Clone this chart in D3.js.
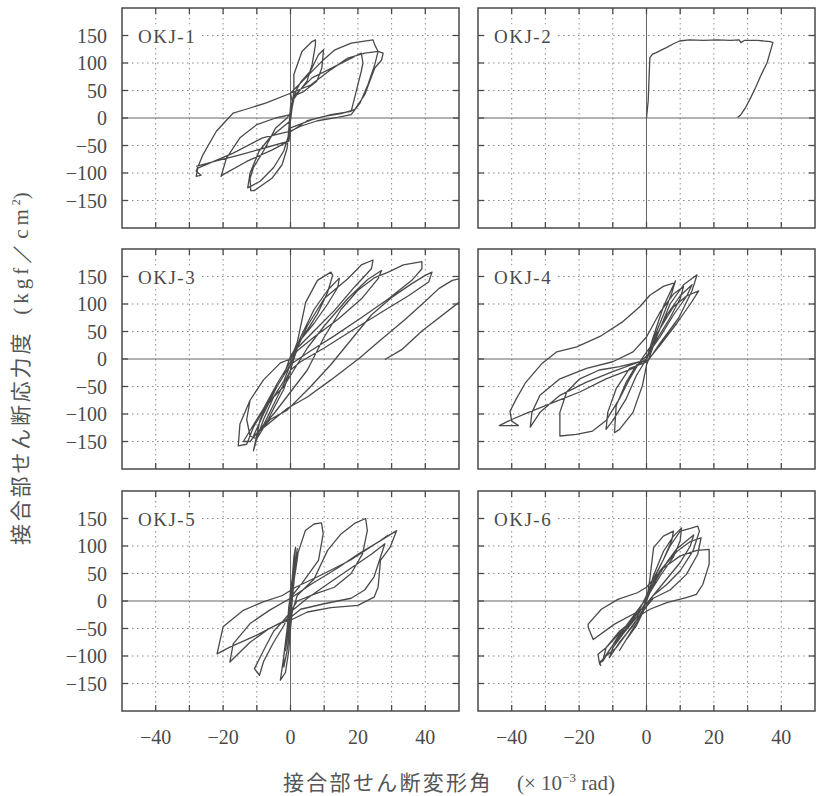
<!DOCTYPE html>
<html>
  <head>
    <meta charset="utf-8">
    <title>OKJ hysteresis</title>
    <script src="https://d3js.org/d3.v7.min.js"></script>
    <style>
      body { margin: 0; background: #fff; }
    </style>
  </head>
  <body>
    <script>
      // shear deformation angle (x10^-3 rad), shear stress (kgf/cm2)
      var okj1 = [[0,0],[0.5,25],[1,48],[1,79],[3.4,121],[6.4,139],[7.4,142],[7.4,133],[6.4,97],[4.9,67],[2.5,48],[0.5,30],[0,0],
        [-0.5,-30],[-2,-60],[-5,-90],[-9,-115],[-12.7,-127],[-12,-100],[-9.3,-60],[-6,-35],[-3,-20],[0,-5],
        [0.5,20],[1.5,48],[3,65],[5.9,85],[8.3,115],[9.8,124],[9.3,91],[7.8,67],[3.9,48],[1,40],[0,20],
        [-0.5,-20],[-1,-55],[-2.5,-85],[-5.4,-109],[-10.8,-132],[-11.8,-132],[-12,-110],[-11,-90],[-8,-60],[-4.4,-18],[-1,0],[0,10],
        [1,40],[6.4,73],[13.2,94],[21,118],[21.5,100],[21,85],[19,36],[18,12],[12,6],[6.4,-3],[0,-18],
        [-0.5,-42],[-5.4,-58],[-13,-79],[-20,-103],[-20.6,-106],[-19,-73],[-15,-36],[-10,-12],[-4.4,0],[0,6],[0.5,30],
        [0,45],[4,70],[9.3,103],[13.2,124],[18,136],[24.5,142],[25,133],[26,121],[25,97],[23,61],[20.6,27],[18,6],[14,1],[8,-5],[3,-15],[0,-24],
        [-8.3,-36],[-17,-64],[-24,-82],[-27.5,-91],[-28,-106],[-26.5,-104],[-28,-97],[-26,-67],[-22,-24],[-17,9],[-13.7,15],[-7.4,27],[0,45],
        [6,60],[12,88],[17,109],[22,118],[26,121],[27.5,118],[27,105],[25,91],[22,42],[19,15],[15,8],[10,3],[5,-5],[0,-25],
        [-0.5,-42],[-8,-55],[-15,-67],[-22,-78],[-28,-88]];

      var okj2 = [[0,0],[0.5,31],[0.8,80],[1,110],[1.8,116],[2.9,119],[4.5,124],[5.9,128],[8,135],[9.8,140],[12.7,142],
        [17,141],[21,142],[25,141],[27.5,142],[28,137],[29,141],[33,141],[36.8,139],[37.5,137],[35.8,101],[34,78],
        [32.4,56],[31,38],[29.4,19],[28,6],[27,1]];

      var okj3 = [[0,0],[2,30],[4.5,103],[8,143],[12,158],[12.5,152],[11,121],[8,82],[4.5,48],[1.5,20],[0,0],
        [-3,-7],[-8,-38],[-12,-75],[-13,-110],[-12,-140],[-10,-145],[-8,-110],[-5,-69],[-2,-40],[0,-10],
        [3,40],[7,90],[11,125],[14.5,147],[14,130],[11,100],[7,65],[3,35],[0,5],
        [-2,-30],[-6,-70],[-9,-110],[-11,-167],[-10,-145],[-7.5,-120],[-5,-90],[-2,-55],[0,-20],
        [2,20],[5,60],[10,110],[17,146],[21,171],[24.5,180],[24,164],[19,131],[13,88],[7,51],[2,20],[0,0],
        [-3,-7],[-8,-38],[-12,-75],[-15,-118],[-15.5,-158],[-13,-155],[-11,-124],[-8,-93],[-5,-69],[-2,-50],[0,-30],
        [5,20],[10,60],[17,110],[23,145],[27,161],[26,146],[21,109],[14,72],[7,40],[2,15],[0,-5],
        [-4,-45],[-8,-90],[-12,-130],[-14,-150],[-12,-150],[-8,-120],[-5,-100],[0,-60],[5,-20],[10,40],[15,90],[20,125],[25,148],[29,158],[33.5,171],[39,177],
        [39,164],[36,143],[29,109],[21,75],[13,42],[6,15],[0,-10],
        [-4,-50],[-8,-100],[-11,-140],[-9,-130],[-6,-110],[-1,-93],[6,-50],[12,-10],[18,35],[24,80],[30,112],[36,137],[40,152],[42,158],
        [41,140],[35,115],[27,85],[18,51],[10,20],[3,-5],[0,-20],
        [-4,-70],[-8,-120],[-10,-135],[-7,-120],[-3,-100],[-1,-90],[5,-69],[12,-38],[20.5,2],[27,36],[34,72],[40,105],[44,128],[48,143],[55,152],
        [62,150],[60,135],[50,103],[39,51],[33,17],[28,-1]];

      var okj4 = [[0,0],[2,40],[5,95],[8.6,142],[7.5,120],[5,80],[2,35],[0,0],
        [-3,-11],[-6,-42],[-9,-85],[-9.5,-134],[-8,-128],[-4,-97],[-1.2,-48],[0,-11],
        [3,40],[7,100],[11,135],[15,153],[13.5,124],[9.6,75],[3.7,26],[0.3,-5],
        [-5,-17],[-9,-54],[-11.5,-97],[-12,-128],[-10,-112],[-6,-72],[-3,-30],[0,0],
        [3,45],[8,95],[12,115],[15.5,124],[13,100],[9,65],[4,25],[0,-5],
        [-2,-5],[-5,-36],[-8,-72],[-12,-112],[-16,-131],[-20.8,-137],[-25.7,-140],[-25.7,-97],[-23.7,-60],[-19.8,-36],[-14,-20],[-8,-14],[-2,-5],
        [2,30],[6,80],[10,115],[13.5,135],[12,115],[8,80],[4,40],[0,5],
        [-2,-5],[-10,-23],[-17.8,-42],[-25.7,-66],[-31.6,-97],[-34.5,-124],[-34,-97],[-31.6,-66],[-25.7,-36],[-17.8,-17],[-10,-5],[-4,13],
        [0,40],[4,85],[8,118],[11,132],[10,110],[7,75],[3,35],[0,0],
        [-4,-17],[-12,-36],[-19.8,-60],[-27.6,-79],[-35,-97],[-40,-110],[-43.7,-121],[-38,-121],[-40,-113],[-40.5,-95],[-38.6,-72],[-36,-44],[-31,-8],
        [-26.6,13],[-20.7,22],[-13.8,41],[-7,68],[-2,95],[1,116],[5,132],[8,138]];

      var okj5 = [[0,0],[0.5,40],[1,80],[1.5,98],[1,60],[0,20],[-0.5,-20],[-1,-60],[-1.5,-90],[-0.5,-50],[0.5,0],[1,50],[2,95],[1.5,70],[0.5,30],
        [-0.5,-10],[-1,-50],[-2,-100],[-2,-120],[-1,-90],[0,-40],[0.5,0],[1.2,45],[2.2,85],[1.5,55],[0.3,10],[-0.8,-40],[-1.5,-75],[-0.5,-40],[0.5,0],
        [1.5,74],[4.4,128],[7,140],[9.2,142],[9.7,122],[8.3,74],[3.4,32],[0.5,10],[-0.5,-30],[-1.5,-80],[-3,-144],[-1.5,-130],[-0.5,-90],[0,-50],[0.5,-20],[2,10],
        [7,40],[11,92],[15,122],[19,141],[22.3,150],[22.8,128],[21.4,86],[18,50],[13,25],[7.3,13],[2,0],[0,-20],
        [-2,-35],[-5,-55],[-8,-90],[-10.7,-123],[-9.2,-135],[-8,-110],[-5,-75],[-2,-45],[0,-20],[5,5],[12,35],[18,60],[24,85],[28,104],
        [24.8,44],[22,20],[18,5],[10,-5],[3,-15],[0,-30],
        [-6.3,-50],[-12,-75],[-18,-111],[-17,-78],[-12,-41],[-6.3,-17],[0,5],[6,30],[14,60],[20,85],[26,107],[31.5,128],
        [29.6,98],[26.7,74],[26,25],[24.8,7],[20,-8],[12,-12],[5,-20],[0,-35],
        [-3.4,-41],[-10,-62],[-18,-84],[-21.8,-96],[-20,-47],[-14,-17],[-8.3,-2],[-2.4,10],[1.5,25],[10,50],[18,75],[26.7,110],[29,120]];

      var okj6 = [[0,0],[1,40],[2.1,97],[5,118],[8,127],[7.5,110],[5,75],[2,40],[0,10],[-1,-20],[-3,-45],[-6,-70],[-8,-90],[-6.5,-75],[-4,-50],[-1.5,-25],[0,0],
        [2,45],[5,90],[8,118],[10.4,133],[10,110],[8,80],[4,45],[1,15],[-1,-15],[-4,-45],[-8,-75],[-11,-103],[-10,-85],[-7,-60],[-3,-30],[0,0],
        [3,50],[7,100],[10,127],[13,132],[15.2,136],[15.7,127],[13.8,91],[10,55],[6,30],[2,10],[0,-5],
        [-3,-25],[-6,-50],[-10,-80],[-13.9,-115],[-14.4,-97],[-12,-85],[-9,-65],[-5,-40],[-2,-15],[0,10],
        [4,55],[9,90],[13,108],[16.2,115],[15.2,85],[11.8,48],[7,20],[2,5],[0,-10],
        [-4,-24],[-9.5,-42],[-15.8,-70],[-17.3,-48],[-17.3,-42],[-13.4,-15],[-8.5,3],[-2.7,15],[0,25],[5,60],[10,82],[15,92],[18.6,94],
        [18.6,67],[16.7,30],[14.8,12],[11.8,6],[6,-3],[1,-15],[-3,-30],[-8,-55],[-12,-85],[-13,-110],
        [-12,-100],[-9,-70],[-6,-45],[-3,-20],[0,5],[3,40],[6,70],[9,95],[12,110],[14,120],[13,100],[10,70],[6,40],[2,10],[0,-10],
        [-3,-35],[-6,-60],[-9,-85],[-12,-100],[-14,-112],[-13.5,-118]];

      var names = ["OKJ-1", "OKJ-2", "OKJ-3", "OKJ-4", "OKJ-5", "OKJ-6"];
      var curves = [okj1, okj2, okj3, okj4, okj5, okj6];
      var xTicks = [-40, -30, -20, -10, 10, 20, 30, 40];
      var xLabels = [-40, -20, 0, 20, 40];
      var yTicks = [-150, -100, -50, 50, 100, 150];
      var yLabels = [-150, -100, -50, 0, 50, 100, 150];

      var width = 816, height = 796;
      var colX = [122, 478];
      var rowY = [8, 249, 491];
      var plotW = 337, plotH = 220;
      var ink = "#4a4a4a";

      var svg = d3.select("body").append("svg").attr("width", width).attr("height", height);

      var x = d3.scaleLinear().domain([-50, 50]).range([0, plotW]);
      var y = d3.scaleLinear().domain([-200, 200]).range([plotH, 0]);
      var fmt = function(d) { return d < 0 ? "\u2212" + Math.abs(d) : String(d); };

      var line = d3.line()
        .x(function(d) { return x(d[0]); })
        .y(function(d) { return y(d[1]); });

      curves.forEach(function(data, i) {
        var col = i % 2, row = Math.floor(i / 2);
        var g = svg.append("g").attr("transform", "translate(" + colX[col] + "," + rowY[row] + ")");

        g.append("clipPath").attr("id", "clip" + i)
          .append("rect").attr("width", plotW).attr("height", plotH);

        // dotted grid
        g.selectAll(".gx").data(xTicks).enter().append("line")
          .attr("x1", function(d) { return x(d); }).attr("x2", function(d) { return x(d); })
          .attr("y1", 0).attr("y2", plotH)
          .attr("stroke", "#8a8a8a").attr("stroke-width", 1).attr("stroke-dasharray", "1.5,3.5");
        g.selectAll(".gy").data(yTicks).enter().append("line")
          .attr("x1", 0).attr("x2", plotW)
          .attr("y1", function(d) { return y(d); }).attr("y2", function(d) { return y(d); })
          .attr("stroke", "#8a8a8a").attr("stroke-width", 1).attr("stroke-dasharray", "1.5,3.5");

        // zero lines
        g.append("line").attr("x1", x(0)).attr("x2", x(0)).attr("y1", 0).attr("y2", plotH)
          .attr("stroke", "#666").attr("stroke-width", 1);
        g.append("line").attr("x1", 0).attr("x2", plotW).attr("y1", y(0)).attr("y2", y(0))
          .attr("stroke", "#666").attr("stroke-width", 1);

        // inward ticks on all sides
        var tx = xTicks.concat([0]);
        g.selectAll(".tt").data(tx).enter().append("line")
          .attr("x1", function(d) { return x(d); }).attr("x2", function(d) { return x(d); })
          .attr("y1", 0).attr("y2", 6).attr("stroke", ink).attr("stroke-width", 1.3);
        g.selectAll(".tb").data(tx).enter().append("line")
          .attr("x1", function(d) { return x(d); }).attr("x2", function(d) { return x(d); })
          .attr("y1", plotH - 6).attr("y2", plotH).attr("stroke", ink).attr("stroke-width", 1.3);
        var ty = yTicks.concat([0]);
        g.selectAll(".tl").data(ty).enter().append("line")
          .attr("x1", 0).attr("x2", 6)
          .attr("y1", function(d) { return y(d); }).attr("y2", function(d) { return y(d); })
          .attr("stroke", ink).attr("stroke-width", 1.3);
        g.selectAll(".tr").data(ty).enter().append("line")
          .attr("x1", plotW - 6).attr("x2", plotW)
          .attr("y1", function(d) { return y(d); }).attr("y2", function(d) { return y(d); })
          .attr("stroke", ink).attr("stroke-width", 1.3);

        // specimen label on white patch
        g.append("rect").attr("x", 8).attr("y", y(150) - 11).attr("width", 72).attr("height", 22).attr("fill", "#fff");
        g.append("text").attr("x", 16).attr("y", y(150) + 7)
          .attr("font-family", "Liberation Serif").attr("font-size", 19).attr("letter-spacing", 1.5)
          .attr("fill", ink).text(names[i]);

        // hysteresis curve
        g.append("path").datum(data)
          .attr("clip-path", "url(#clip" + i + ")")
          .attr("d", line)
          .attr("fill", "none").attr("stroke", "#4a4a4a").attr("stroke-width", 1.3)
          .attr("stroke-linejoin", "round");

        // frame
        g.append("rect").attr("width", plotW).attr("height", plotH)
          .attr("fill", "none").attr("stroke", ink).attr("stroke-width", 1.5);

        // y labels on left column
        if (col === 0) {
          g.selectAll(".yl").data(yLabels).enter().append("text")
            .attr("x", -15).attr("y", function(d) { return y(d); }).attr("dy", "0.36em")
            .attr("text-anchor", "end")
            .attr("font-family", "Liberation Serif").attr("font-size", 20).attr("fill", ink)
            .text(fmt);
        }
        // x labels on bottom row
        if (row === 2) {
          g.selectAll(".xl").data(xLabels).enter().append("text")
            .attr("x", function(d) { return x(d); }).attr("y", plotH + 33)
            .attr("text-anchor", "middle")
            .attr("font-family", "Liberation Serif").attr("font-size", 20).attr("fill", ink)
            .text(fmt);
        }
      });

      // axis titles
      var xt = svg.append("text").attr("x", 283).attr("y", 790)
        .attr("font-family", "Noto Sans CJK JP").attr("font-size", 21).attr("fill", "#555");
      xt.append("tspan").attr("letter-spacing", 2.3).text("接合部せん断変形角");
      xt.append("tspan").attr("x", 517).attr("font-family", "Liberation Serif").attr("font-size", 21).text("(× 10");
      xt.append("tspan").attr("dy", -8).attr("font-size", 13).attr("font-family", "Liberation Serif").text("−3");
      xt.append("tspan").attr("dy", 8).attr("font-family", "Liberation Serif").attr("font-size", 21).text(" rad)");

      var yt = svg.append("text").attr("transform", "translate(28,545) rotate(-90)")
        .attr("font-family", "Noto Sans CJK JP").attr("font-size", 21).attr("fill", "#555");
      yt.append("tspan").attr("letter-spacing", 2.8).text("接合部せん断応力度");
      yt.append("tspan").attr("dx", 16).attr("letter-spacing", 4).attr("font-family", "Liberation Serif").text("(kgf／cm");
      yt.append("tspan").attr("dy", -8).attr("font-size", 12).attr("font-family", "Liberation Serif").text("2");
      yt.append("tspan").attr("dy", 8).attr("font-family", "Liberation Serif").text(")");
    </script>
  </body>
</html>
